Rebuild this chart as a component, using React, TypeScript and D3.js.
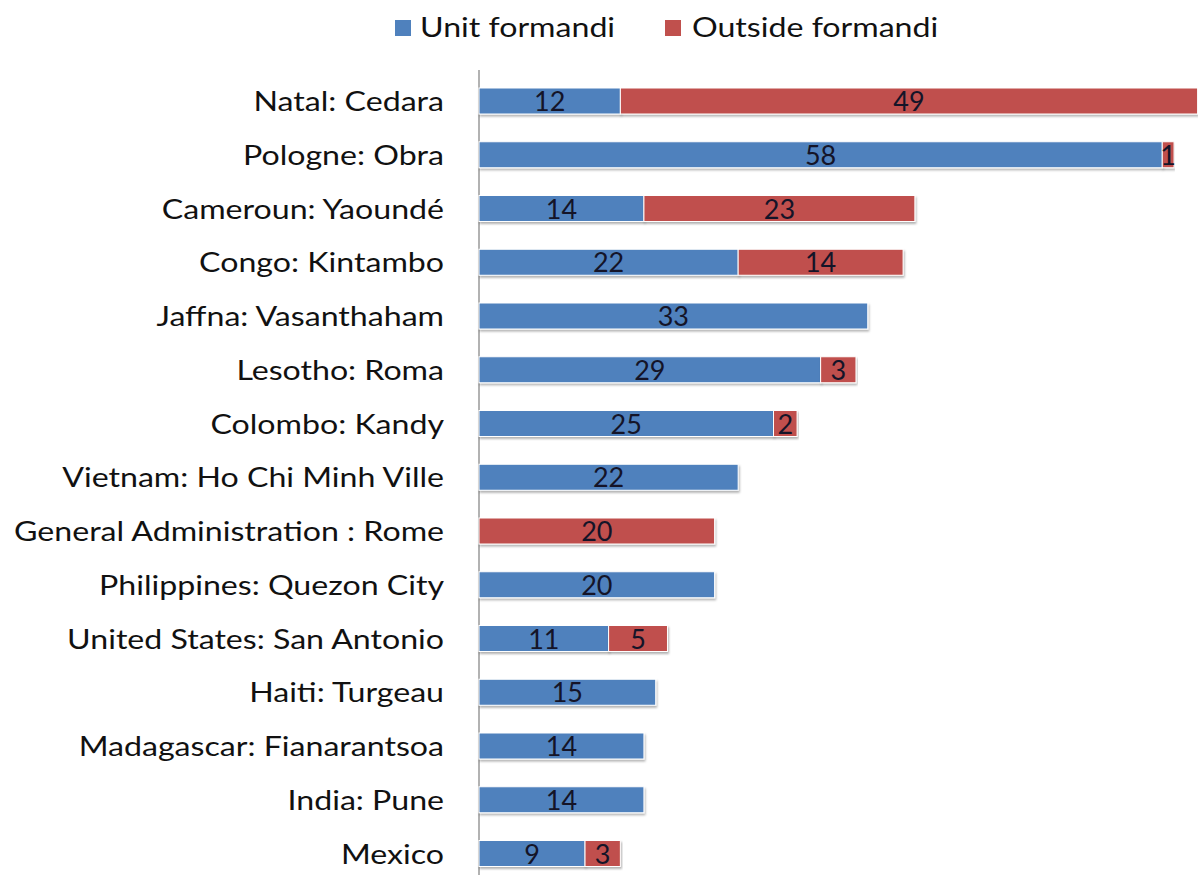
import React from "react";
import * as d3 from "d3";

const categories = [
  "Natal: Cedara",
  "Pologne: Obra",
  "Cameroun: Yaoundé",
  "Congo: Kintambo",
  "Jaffna: Vasanthaham",
  "Lesotho: Roma",
  "Colombo: Kandy",
  "Vietnam: Ho Chi Minh Ville",
  "General Administration : Rome",
  "Philippines: Quezon City",
  "United States: San Antonio",
  "Haiti: Turgeau",
  "Madagascar: Fianarantsoa",
  "India: Pune",
  "Mexico",
];
const unitFormandi = [12, 58, 14, 22, 33, 29, 25, 22, 0, 20, 11, 15, 14, 14, 9];
const outsideFormandi = [49, 1, 23, 14, 0, 3, 2, 0, 20, 0, 5, 0, 0, 0, 3];
const seriesNames = ["Unit formandi", "Outside formandi"];
const colors = ["#4F81BD", "#C0504D"];

export default function App() {
  const W = 1198, H = 875;
  const x = d3.scaleLinear().domain([0, 61]).range([479, 1197.6]);
  const y = d3.scalePoint<string>().domain(categories).range([101, 853.5]);
  const bh = 26;
  const font = "Lato, 'Open Sans', sans-serif";
  const sx = 1.19;
  const series = [unitFormandi, outsideFormandi];
  const legendPos = [
    { sq: 395, tx: 420 },
    { sq: 665, tx: 692 },
  ];

  return (
    <svg width={W} height={H} style={{ position: "absolute", left: 0, top: 0, background: "#fff" }}>
      <defs>
        <filter id="sh" x="-5%" y="-20%" width="110%" height="160%">
          <feDropShadow dx="1" dy="2" stdDeviation="1" floodColor="#000" floodOpacity="0.3" />
        </filter>
      </defs>
      {seriesNames.map((n, i) => (
        <g key={n}>
          <rect x={legendPos[i].sq} y={20} width={16} height={16} fill={colors[i]} />
          <g transform={`translate(${legendPos[i].tx},37) scale(${sx},1)`}>
            <text x={0} y={0} fontFamily={font} fontSize={27} fill="#111">{n}</text>
          </g>
        </g>
      ))}
      <line x1={479} x2={479} y1={70} y2={875} stroke="#999" strokeWidth={1.5} />
      {categories.map((c, i) => {
        const cy = y(c)!;
        let acc = 0;
        return (
          <g key={c}>
            <g transform={`translate(444,${cy + 10}) scale(${sx},1)`}>
              <text x={0} y={0} textAnchor="end" fontFamily={font} fontSize={27} fill="#111">{c}</text>
            </g>
            {series.map((s, si) => {
              const v = s[i];
              if (!v) return null;
              const x0 = x(acc), x1 = x(acc + v);
              acc += v;
              return (
                <rect key={si} x={x0} y={cy - bh / 2} width={x1 - x0} height={bh} fill={colors[si]} stroke="#fff" strokeWidth={1} filter="url(#sh)" />
              );
            })}
          </g>
        );
      })}
      {categories.map((c, i) => {
        const cy = y(c)!;
        let acc = 0;
        return (
          <g key={c + "l"}>
            {series.map((s, si) => {
              const v = s[i];
              if (!v) return null;
              const mid = x(acc + v / 2);
              acc += v;
              return (
                <text key={si} x={mid} y={cy + 10} textAnchor="middle" fontFamily={font} fontSize={27} fill="#141428">{v}</text>
              );
            })}
          </g>
        );
      })}
    </svg>
  );
}
